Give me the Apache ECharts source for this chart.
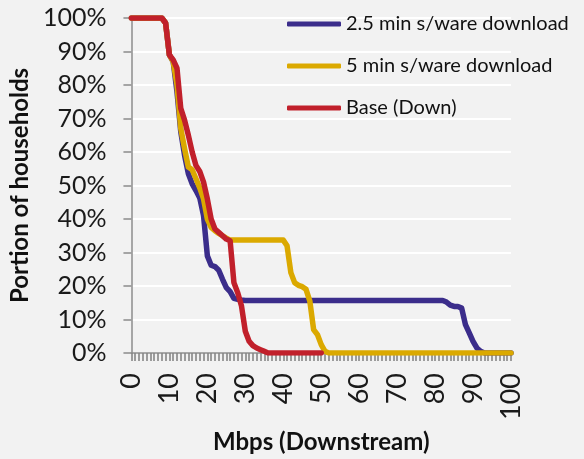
<!DOCTYPE html>
<html>
<head>
<meta charset="utf-8">
<script src="https://cdn.jsdelivr.net/npm/echarts@6/dist/echarts.min.js"></script>
<style>
html,body{margin:0;padding:0;background:#f2f2f2;}
#c{width:584px;height:459px;}
</style>
</head>
<body>
<div id="c"></div>
<script>
const mbps = [];
for (let i = 0; i <= 100; i++) mbps.push(String(i));
const seriesNames = ['2.5 min s/ware download', '5 min s/ware download', 'Base (Down)'];
const blue = [100,100,100,100,100,100,100,100,100,98.5,89,87,78,66,59,53.5,50.5,48.5,46.3,41,29,26.2,25.8,24.7,22,19.5,18.3,16.3,16,15.8,
15.7,15.7,15.7,15.7,15.7,15.7,15.7,15.7,15.7,15.7,15.7,15.7,15.7,15.7,15.7,15.7,15.7,15.7,15.7,15.7,15.7,15.7,15.7,15.7,15.7,15.7,15.7,15.7,15.7,15.7,15.7,15.7,15.7,15.7,15.7,15.7,15.7,15.7,15.7,15.7,15.7,15.7,15.7,15.7,15.7,15.7,15.7,15.7,15.7,15.7,15.7,15.7,15.7,
15.2,14.3,13.9,13.9,13.4,8.5,6,3.5,1.5,0.5,0,0,0,0,0,0,0,0];
const yellow = [100,100,100,100,100,100,100,100,100,98.5,89,87,80,67,61,55.5,54.7,52,49.3,46,40,37.5,36.5,35.7,35,34.3,33.7,
33.7,33.7,33.7,33.7,33.7,33.7,33.7,33.7,33.7,33.7,33.7,33.7,33.7,33.7,
32,24,21,20.2,19.8,19,15.5,7,5.5,2.5,0.5,
0,0,0,0,0,0,0,0,0,0,0,0,0,0,0,0,0,0,0,0,0,0,0,0,0,0,0,0,0,0,0,0,0,0,0,0,0,0,0,0,0,0,0,0,0,0,0,0,0];
const red = [100,100,100,100,100,100,100,100,100,98.5,89,87.5,85,73,69.5,65,60,56,54.2,51,46,40,37,36,35,34,33.5,21,18,14,6.5,3.5,2.2,1.5,1,0.5,
0,0,0,0,0,0,0,0,0,0,0,0,0,0,0];
const colors = ['#3b2d8b', '#dba900', '#c1202b'];
const yTicks = [0,10,20,30,40,50,60,70,80,90,100];

const chart = echarts.init(document.getElementById('c'));
const font = 'Lato, "Open Sans", sans-serif';
const mk = (name, data, color, z) => ({
  name, type: 'line', data, symbol: 'none', z,
  lineStyle: {color, width: 5.5, cap: 'round', join: 'round'},
  itemStyle: {color}
});
chart.setOption({
  backgroundColor: '#f2f2f2',
  animation: false,
  grid: {left: 130, right: 73, top: 18, bottom: 102},
  legend: {
    orient: 'vertical', left: 282, top: 9,
    icon: 'roundRect',
    itemWidth: 54, itemHeight: 5, itemGap: 22,
    data: seriesNames,
    textStyle: {fontFamily: font, fontSize: 20, color: '#111'}
  },
  xAxis: {
    type: 'category', data: mbps, boundaryGap: false,
    name: 'Mbps (Downstream)', nameLocation: 'middle', nameGap: 77,
    nameTextStyle: {fontFamily: font, fontSize: 24, fontWeight: 'bold', color: '#111'},
    axisLine: {lineStyle: {color: '#8c8c8c', width: 1.5}},
    axisTick: {interval: 0, length: 8, lineStyle: {color: '#868686', width: 1.6}},
    axisLabel: {interval: 9, rotate: 90, margin: 20, fontFamily: font, fontSize: 27, color: '#1a1a1a'},
    splitLine: {show: false}
  },
  yAxis: {
    type: 'value', min: 0, max: 100, interval: 10,
    name: 'Portion of households', nameLocation: 'middle', nameGap: 95,
    nameTextStyle: {fontFamily: font, fontSize: 24, fontWeight: 'bold', color: '#111'},
    axisLine: {show: true, lineStyle: {color: '#8c8c8c', width: 1.5}},
    axisTick: {show: true, length: 8, lineStyle: {color: '#8c8c8c', width: 1.5}},
    axisLabel: {margin: 25, fontFamily: font, fontSize: 25, color: '#1a1a1a',
      formatter: v => (yTicks.includes(v) ? v + '%' : '')},
    splitLine: {lineStyle: {color: '#ffffff', width: 2}}
  },
  series: [
    mk(seriesNames[0], blue, colors[0], 2),
    mk(seriesNames[1], yellow, colors[1], 3),
    mk(seriesNames[2], red, colors[2], 4)
  ]
});
</script>
</body>
</html>
